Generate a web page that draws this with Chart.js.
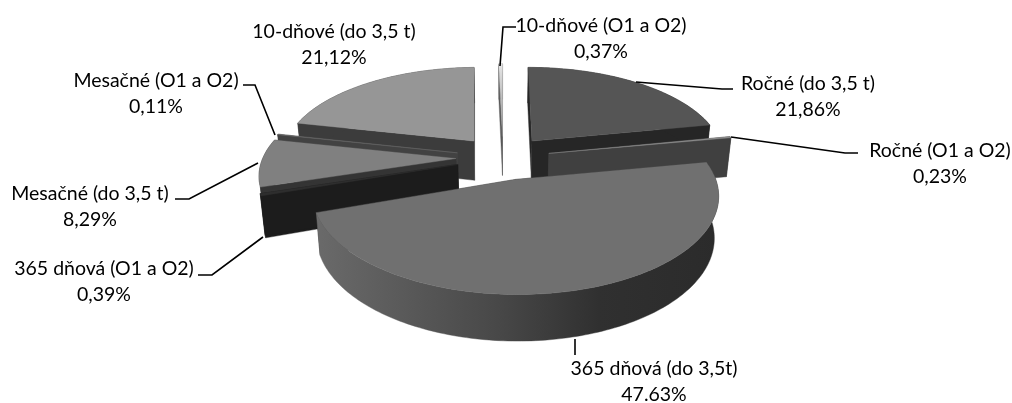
<!DOCTYPE html>
<html>
<head>
<meta charset="utf-8">
<script src="https://cdn.jsdelivr.net/npm/chart.js@4/dist/chart.umd.min.js"></script>
<style>
  html, body { margin: 0; padding: 0; background: #fff; }
  #graf { display: block; }
</style>
</head>
<body>
<canvas id="graf" width="1012" height="403"></canvas>
<script>
// Data
const categories = [
    ["Ročné (do 3,5 t)"], ["Ročné (O1 a O2)"], ["365 dňová (do 3,5t)"], ["365 dňová (O1 a O2)"],
    ["Mesačné (do 3,5 t)"], ["Mesačné (O1 a O2)"], ["10-dňové (do 3,5 t)"], ["10-dňové (O1 a O2)"]
];
const values = [21.86, 0.23, 47.63, 0.39, 8.29, 0.11, 21.12, 0.37];
const valueLabels = ["21,86%", "0,23%", "47.63%", "0,39%", "8,29%", "0,11%", "21,12%", "0,37%"];

// Styling per slice
const topColors = ["#555555", "#8a8a8a", "#707070", "#2e2e2e", "#808080", "#6a6a6a", "#969696", "#c8c8c8"];
const wallColors = ["#262626", "#404040", "#2c2c2c", "#1c1c1c", "#343434", "#424242", "#3c3c3c", "#5a5a5a"];
const paintOrder = [7, 6, 0, 5, 4, 3, 1, 2];
const labelCenters = [[808, 84], [940, 151], [654, 369], [104, 269], [90, 194], [156, 81], [334, 32], [601, 26]];
const leaderPaths = [
    [[636, 82], [722, 89], [733, 89]],
    [[731, 137], [845, 153], [858, 153]],
    [[575, 339], [575, 355]],
    [[263, 237], [212, 275], [198, 275]],
    [[258, 163], [189, 199], [175, 199]],
    [[275, 135], [255, 85], [243, 85]],
    [],
    [[500, 66], [503, 27], [516, 27]]
];

// Simple camera for the tilted pie
const CAM_X = -3, CAM_Y = -44;
const SQUASH = 0.465, PERSP = 0.0008, EXPLODE = 47, DEPTH = 40;

function proyectar(arc, r, ang, mid, abajo) {
    const X = EXPLODE * Math.sin(mid) + r * Math.sin(ang);
    const Y = -EXPLODE * Math.cos(mid) - r * Math.cos(ang);
    const w = 1 / (1 - Y * PERSP);
    const cx = arc.x + CAM_X, cy = arc.y + CAM_Y;
    if (!abajo) return [cx + X * w, cy + SQUASH * Y * w];
    return [cx + X * w * 0.98, cy + SQUASH * Y * w + DEPTH * (1 + (w - 1) * 0.7)];
}

function poligono(ctx, pts, fill) {
    ctx.beginPath();
    pts.forEach((p, i) => i ? ctx.lineTo(p[0], p[1]) : ctx.moveTo(p[0], p[1]));
    ctx.closePath();
    ctx.fillStyle = fill;
    ctx.strokeStyle = fill;
    ctx.lineWidth = 0.4;
    ctx.fill();
    ctx.stroke();
}

function borde(arc, ini, fin, mid, abajo) {
    const pasos = Math.max(2, Math.ceil((fin - ini) / 0.02));
    const pts = [];
    for (let i = 0; i <= pasos; i++) {
        pts.push(proyectar(arc, arc.outerRadius, ini + (fin - ini) * i / pasos, mid, abajo));
    }
    return pts;
}

const pastel3D = {
    id: "pastel3D",
    beforeDatasetsDraw(chart) {
        const ctx = chart.ctx;
        const arcs = chart.getDatasetMeta(0).data;
        ctx.save();
        paintOrder.forEach(i => {
            const arc = arcs[i];
            const ini = arc.startAngle + Math.PI / 2;
            const fin = arc.endAngle + Math.PI / 2;
            const mid = (ini + fin) / 2;
            const apice = proyectar(arc, 0, mid, mid, false);
            const apiceB = proyectar(arc, 0, mid, mid, true);
            const arriba = borde(arc, ini, fin, mid, false);
            const bajo = borde(arc, ini, fin, mid, true);

            // cut faces
            poligono(ctx, [apice, arriba[0], bajo[0], apiceB], wallColors[i]);
            poligono(ctx, [apice, arriba[arriba.length - 1], bajo[bajo.length - 1], apiceB], wallColors[i]);

            // rim
            let pared = wallColors[i];
            if (i === 2) {
                pared = ctx.createLinearGradient(316, 0, 720, 0);
                pared.addColorStop(0, "#6a6a6a");
                pared.addColorStop(0.45, "#484848");
                pared.addColorStop(0.7, "#303030");
                pared.addColorStop(1, "#2b2b2b");
            }
            poligono(ctx, arriba.concat(bajo.slice().reverse()), pared);

            // top
            let tapa = topColors[i];
            if (i === 7) {
                tapa = ctx.createLinearGradient(0, 65, 0, 140);
                tapa.addColorStop(0, "#e4e4e4");
                tapa.addColorStop(1, "#8c8c8c");
            }
            poligono(ctx, [apice].concat(arriba), tapa);
        });
        ctx.restore();
        return false;
    },
    afterDraw(chart) {
        const ctx = chart.ctx;
        ctx.save();
        ctx.strokeStyle = "#000";
        ctx.lineWidth = 1.6;
        leaderPaths.forEach(path => {
            if (!path.length) return;
            ctx.beginPath();
            path.forEach((p, i) => i ? ctx.lineTo(p[0], p[1]) : ctx.moveTo(p[0], p[1]));
            ctx.stroke();
        });
        ctx.fillStyle = "#000";
        ctx.font = "19.5px Lato";
        ctx.textAlign = "center";
        ctx.textBaseline = "middle";
        categories.forEach((c, i) => {
            const [x, y] = labelCenters[i];
            ctx.fillText(c[0], x, y);
            ctx.fillText(valueLabels[i], x, y + 26);
        });
        ctx.restore();
    }
};

new Chart(document.getElementById("graf"), {
    type: "pie",
    data: {
        labels: categories.map(c => c[0]),
        datasets: [{ data: values, backgroundColor: topColors, borderWidth: 0, radius: 193 }]
    },
    options: {
        responsive: false,
        animation: false,
        plugins: { legend: { display: false }, tooltip: { enabled: false } }
    },
    plugins: [pastel3D]
});
</script>
</body>
</html>
